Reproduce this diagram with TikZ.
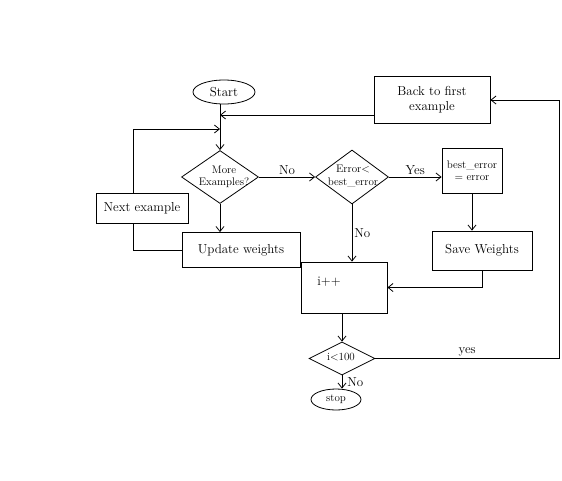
\documentclass[tikz,border=0pt]{standalone}
\usetikzlibrary{shapes.geometric,arrows.meta}
\begin{document}
\begin{tikzpicture}[x=1pt,y=-1pt,line width=0.8pt,
  box/.style={draw,rectangle,inner sep=0pt},
  term/.style={draw,ellipse,inner sep=0pt},
  dec/.style={draw,diamond,inner sep=0pt},
  txt/.style={font=\fontsize{13}{15}\selectfont,align=center,inner sep=1pt},
  small/.style={font=\fontsize{11}{12.5}\selectfont,align=center,inner sep=0pt},
  arr/.style={-{Straight Barb[length=5pt,width=8pt]}}]
\useasboundingbox (0,0) rectangle (562,480);

% blocks of the flowchart
\node[term,minimum width=62pt,minimum height=24pt,txt] (start) at (224,92) {Start};
\node[box,minimum width=116pt,minimum height=47pt,txt] (back) at (432,100) {Back to first\\example};
\node[dec,minimum width=77pt,minimum height=53pt] (more) at (220,177) {};
\node[small] (moreT) at (224,177) {More\\Examples?};
\node[dec,minimum width=73pt,minimum height=54pt] (err) at (352,177) {};
\node[small] (errT) at (353,176) {Error$<$\\best\_error};
\node[box,minimum width=60pt,minimum height=45pt,small] (besterr) at (472,170.5) {best\_error\\$=$ error};
\node[box,minimum width=92pt,minimum height=30pt,txt] (next) at (142,208) {Next example};
\node[box,minimum width=118pt,minimum height=35pt,txt] (upd) at (241,250) {Update weights};
\node[box,minimum width=100pt,minimum height=39pt,txt] (save) at (482,250.5) {Save Weights};
\node[box,minimum width=86pt,minimum height=51pt] (inc) at (344,287.5) {};
\node[txt] (incT) at (329,282) {i++};
\node[dec,minimum width=66pt,minimum height=33pt] (lt) at (342,358.5) {};
\node[small] (ltT) at (341,357) {i$<$100};
\node[term,minimum width=50pt,minimum height=21pt,small] (stop) at (336,399.5) {stop};

% turning points of the loops
\coordinate (nl) at (133,129);
\coordinate (bl) at (374,115);
\coordinate (rl) at (559,355);

% connectors
\draw[arr] (more.north |- start.south) -- (more.north);
\draw[arr] (bl) -- (bl -| more.north);
\draw[arr] (next.north -| nl) -- (nl) -- (nl -| more.north);
\draw (next.south -| nl) |- (upd.west);
\draw[arr] (more.south) -- (more.south |- upd.north);
\draw[arr] (more.east) -- node[txt,above=1pt]{No} (err.west);
\draw[arr] (err.east) -- node[txt,above=1pt]{Yes} (err.east -| besterr.west);
\draw[arr] (besterr.south) -- (besterr.south |- save.north);
\draw[arr] (save.south) |- (inc.east);
\draw[arr] (err.south) -- node[txt,right=1pt]{No} (err.south |- inc.north);
\draw[arr] (lt.north |- inc.south) -- (lt.north);
\draw[arr] (lt.east) -- node[txt,above=1pt,pos=0.5]{yes} (lt.east -| rl) |- (back.east);
\draw[arr] (lt.south) -- node[txt,right=4pt]{No} (lt.south |- stop.north);
\end{tikzpicture}
\end{document}
